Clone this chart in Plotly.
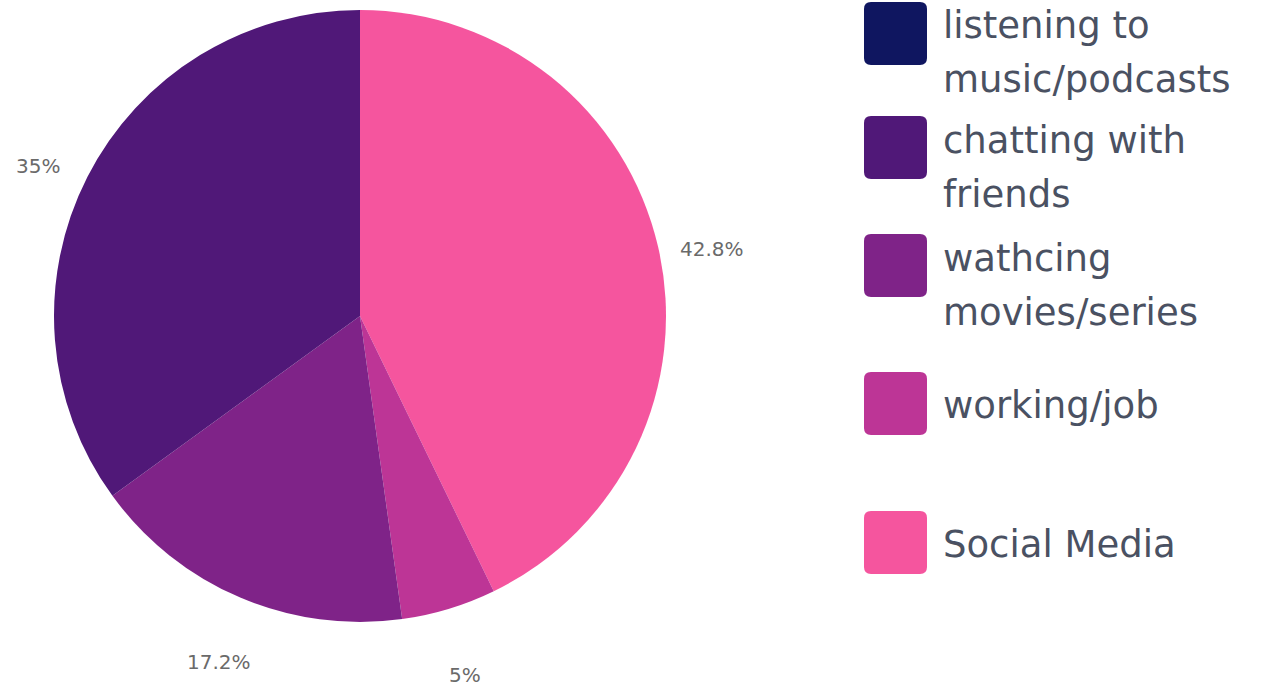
import math
import plotly.graph_objects as go

# Data (clockwise from 12 o'clock)
categories = ["Social Media", "working/job", "wathcing movies/series", "chatting with friends", "listening to music/podcasts"]
values = [42.8, 5, 17.2, 35, 0]
value_labels = ["42.8%", "5%", "17.2%", "35%", ""]
colors = ["#f5559e", "#bd3596", "#7f2388", "#501878", "#0f1660"]

# Legend (top to bottom)
legend_items = ["listening to<br>music/podcasts", "chatting with<br>friends", "wathcing<br>movies/series", "working/job", "Social Media"]
legend_colors = ["#0f1660", "#501878", "#7f2388", "#bd3596", "#f5559e"]

W, H = 1284, 686
cx, cy, r = 360, 316, 306

def px(x):
    return x / W

def py(y):
    return 1 - y / H

fig = go.Figure()
fig.add_trace(go.Pie(
    labels=categories,
    values=values,
    sort=False,
    direction="clockwise",
    rotation=0,
    marker=dict(colors=colors, line=dict(width=0)),
    textinfo="none",
    hoverinfo="label+percent",
    showlegend=False,
    domain=dict(x=[px(cx - r), px(cx + r)], y=[py(cy + r), py(cy - r)]),
))

annotations = []
# value labels placed at slice mid-angles, outside the pie
total = sum(values)
cum = 0
for v, lab in zip(values, value_labels):
    mid = (cum + v / 2) / total * 2 * math.pi
    cum += v
    if not lab:
        continue
    k = 1.18
    x = cx + k * r * math.sin(mid)
    y = cy - k * r * math.cos(mid) + 14
    annotations.append(dict(
        x=px(x), y=py(y), xref="paper", yref="paper", text=lab, showarrow=False,
        xanchor="center", yanchor="middle",
        font=dict(family="DejaVu Sans", size=20, color="#6a6a6a"),
    ))

# custom legend
sq_top = [2, 116, 234, 372, 511]
sq_left, sq_size, rad = 864, 63, 7
line_gap = 54
text_x = 941
for top, item, col in zip(sq_top, legend_items, legend_colors):
    x0, x1 = px(sq_left), px(sq_left + sq_size)
    y0, y1 = py(top), py(top + sq_size)
    rx, ry = rad / W, rad / H
    path = (f"M {x0+rx},{y0} L {x1-rx},{y0} Q {x1},{y0} {x1},{y0-ry} "
            f"L {x1},{y1+ry} Q {x1},{y1} {x1-rx},{y1} L {x0+rx},{y1} "
            f"Q {x0},{y1} {x0},{y1+ry} L {x0},{y0-ry} Q {x0},{y0} {x0+rx},{y0} Z")
    fig.add_shape(type="path", path=path, xref="paper", yref="paper",
                  fillcolor=col, line=dict(width=0))
    lines = item.split("<br>")
    first_y = top + 24 if len(lines) > 1 else top + sq_size / 2 + 2
    for i, ln in enumerate(lines):
        annotations.append(dict(
            x=px(text_x), y=py(first_y + i * line_gap), xref="paper", yref="paper",
            text=ln, showarrow=False, xanchor="left", yanchor="middle",
            font=dict(family="DejaVu Sans", size=37, color="#4a5162"),
        ))

fig.update_layout(
    width=W, height=H,
    margin=dict(l=0, r=0, t=0, b=0),
    paper_bgcolor="white",
    plot_bgcolor="white",
    annotations=annotations,
)

fig.write_html("out.html")
